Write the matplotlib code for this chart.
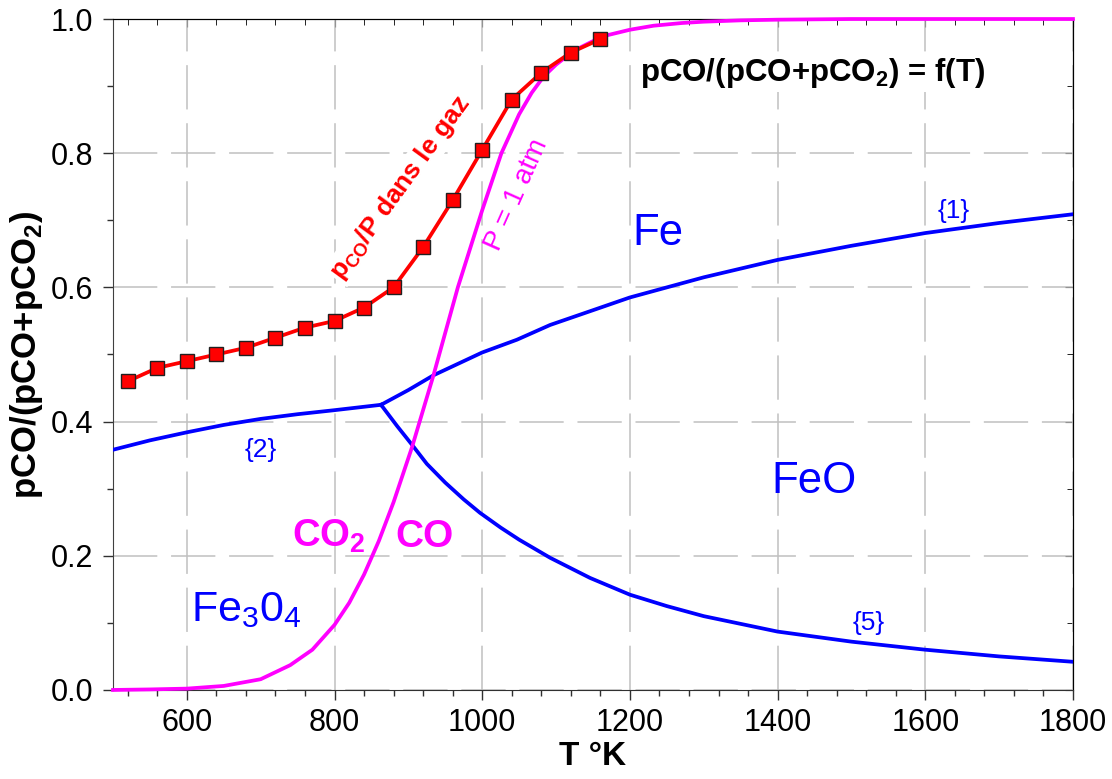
import numpy as np
import matplotlib
matplotlib.use("Agg")
from matplotlib import pyplot as plt
from matplotlib.ticker import MultipleLocator

plt.rcParams['font.family'] = ['Liberation Sans', 'DejaVu Sans']
plt.rcParams['mathtext.fontset'] = 'custom'
plt.rcParams['mathtext.rm'] = 'Liberation Sans'
plt.rcParams['mathtext.bf'] = 'Liberation Sans:bold'

# pCO/P in the gas (red squares)
T_gaz = [520, 560, 600, 640, 680, 720, 760, 800, 840, 880, 920, 960, 1000, 1040, 1080, 1120, 1160]
y_gaz = [0.46, 0.48, 0.49, 0.50, 0.51, 0.525, 0.54, 0.55, 0.57, 0.60, 0.66, 0.73, 0.805, 0.88, 0.92, 0.95, 0.97]

# Boudouard equilibrium, P = 1 atm (magenta)
T_boud = [500, 550, 600, 650, 700, 740, 770, 800, 820, 840, 860, 880, 905, 934, 967, 1000, 1026,
          1050, 1067, 1083, 1100, 1114, 1130, 1150, 1170, 1200, 1232, 1270, 1300, 1350, 1400, 1500, 1800]
y_boud = [0.0, 0.0008, 0.002, 0.006, 0.016, 0.037, 0.06, 0.097, 0.13, 0.172, 0.222, 0.28, 0.362, 0.469,
          0.60, 0.715, 0.80, 0.858, 0.89, 0.914, 0.932, 0.944, 0.956, 0.967, 0.976, 0.984, 0.99, 0.994,
          0.996, 0.998, 0.999, 1.0, 1.0]

# {1} Fe / FeO
T_1 = [863, 900, 934, 1000, 1047, 1092, 1150, 1200, 1300, 1400, 1500, 1600, 1700, 1800]
y_1 = [0.425, 0.447, 0.469, 0.503, 0.522, 0.544, 0.566, 0.585, 0.615, 0.641, 0.662, 0.681, 0.696, 0.709]

# {2} Fe3O4 / Fe
T_2 = [500, 550, 600, 650, 700, 750, 800, 863]
y_2 = [0.358, 0.372, 0.384, 0.395, 0.404, 0.411, 0.417, 0.425]

# {5} Fe3O4 / FeO
T_5 = [863, 885, 906, 925, 950, 975, 997, 1025, 1050, 1092, 1146, 1200, 1250, 1300, 1400, 1500, 1600, 1700, 1800]
y_5 = [0.425, 0.393, 0.364, 0.337, 0.309, 0.284, 0.264, 0.242, 0.224, 0.197, 0.167, 0.142, 0.125, 0.110,
       0.087, 0.072, 0.060, 0.050, 0.042]

fig = plt.figure(figsize=(11.12, 7.79), dpi=100)
ax = fig.add_axes([0.1016, 0.1143, 0.8633, 0.8613])

ax.set_xlim(500, 1800)
ax.set_ylim(0, 1)
ax.xaxis.set_major_locator(MultipleLocator(200))
ax.xaxis.set_minor_locator(MultipleLocator(40))
ax.yaxis.set_major_locator(MultipleLocator(0.2))
ax.yaxis.set_minor_locator(MultipleLocator(0.1))
ax.yaxis.set_major_formatter(matplotlib.ticker.FormatStrFormatter('%.1f'))

ax.grid(True, which='major', color='#c0c0c0', lw=1.1, ls=(0, (29, 9)))
ax.set_axisbelow(True)

ax.tick_params(axis='both', which='both', labelsize=22, color='#303030')
ax.tick_params(axis='both', which='major', length=7, width=1)
ax.tick_params(axis='both', which='minor', length=4.5, width=1)
ax.tick_params(axis='x', which='major', pad=6)
ax.tick_params(axis='y', which='major', pad=7)
# ticks inward on the top and right
ax2 = ax.secondary_xaxis('top')
ax2.set_xticks(ax.get_xticks())
ax2.xaxis.set_minor_locator(MultipleLocator(40))
ax2.tick_params(which='major', direction='in', length=6, labeltop=False)
ax2.tick_params(which='minor', direction='in', length=4, labeltop=False)
ax2.set_xticklabels([])
ax3 = ax.secondary_yaxis('right')
ax3.yaxis.set_minor_locator(MultipleLocator(0.1))
ax3.tick_params(which='major', direction='in', length=6)
ax3.tick_params(which='minor', direction='in', length=4)
ax3.set_yticklabels([])
ax.spines['left'].set_color('#404040')
ax.spines['bottom'].set_color('#303030')

lw = 2.7
ax.plot(T_2, y_2, color='#0000ff', lw=lw, zorder=3)
ax.plot(T_1, y_1, color='#0000ff', lw=lw, zorder=3)
ax.plot(T_5, y_5, color='#0000ff', lw=lw, zorder=3)
ax.plot(T_boud, y_boud, color='#ff00ff', lw=lw, zorder=4, clip_on=False)
ax.plot(T_gaz, y_gaz, color='#ff0000', lw=lw, marker='s', ms=10.5,
        mfc='#ff0000', mec='#202020', mew=1.0, zorder=5)

ax.set_xlabel('T °K', fontsize=24, fontweight='bold', labelpad=2)
ax.set_ylabel(r'pCO/(pCO+pCO$_\mathbf{2}$)', fontsize=25, fontweight='bold', labelpad=4)

ax.text(1214, 0.907, r'pCO/(pCO+pCO$_\mathbf{2}$) = f(T)', fontsize=22.5, fontweight='bold',
        ha='left', va='baseline', bbox=dict(fc='white', ec='none', pad=1), zorder=6)
ax.text(1204, 0.663, 'Fe', fontsize=31.5, color='#0000ff', ha='left', va='baseline')
ax.text(1392, 0.293, 'FeO', fontsize=31.5, color='#0000ff', ha='left', va='baseline')
ax.text(605, 0.102, r'Fe$_\mathrm{3}$0$_\mathrm{4}$', fontsize=31, color='#0000ff', ha='left', va='baseline')
ax.text(742, 0.2136, r'CO$_\mathbf{2}$', fontsize=27.5, fontweight='bold', color='#ff00ff', ha='left', va='baseline')
ax.text(882, 0.2136, 'CO', fontsize=28, fontweight='bold', color='#ff00ff', ha='left', va='baseline')
ax.text(1638, 0.714, '{1}', fontsize=19, color='#0000ff', ha='center', va='center')
ax.text(699.5, 0.358, '{2}', fontsize=19, color='#0000ff', ha='center', va='center')
ax.text(1524, 0.0994, '{5}', fontsize=19, color='#0000ff', ha='center', va='center')
ax.text(889, 0.748, r'p$_\mathbf{CO}$/P dans le gaz', fontsize=19, fontweight='bold', color='#ff0000',
        rotation=54, ha='center', va='center', rotation_mode='anchor',
        bbox=dict(fc='white', ec='none', pad=1), zorder=4.5)
ax.text(1047, 0.738, 'P = 1 atm', fontsize=20, color='#ff00ff',
        rotation=66, ha='center', va='center', rotation_mode='anchor')

fig.savefig('out.png', dpi=100)
